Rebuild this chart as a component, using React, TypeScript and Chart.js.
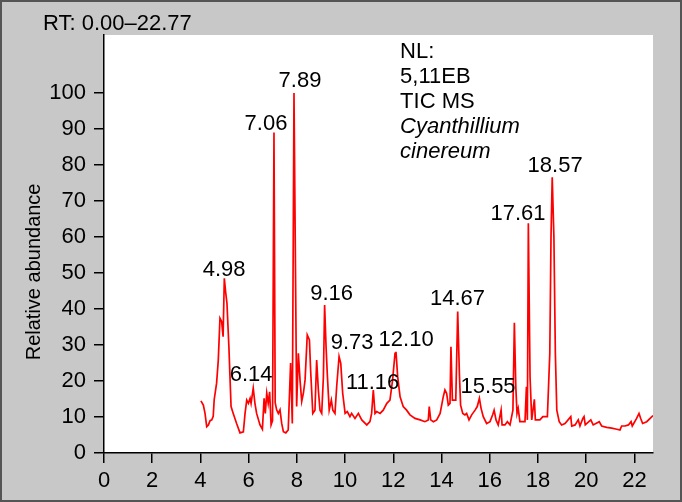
import React, { useEffect, useRef } from "react";
import { Chart, registerables } from "chart.js";

Chart.register(...registerables);

// Retention time (min)
const retentionTimes = [
  4.02, 4.12, 4.19, 4.26, 4.33, 4.40, 4.47, 4.53, 4.57, 4.67, 4.74, 4.81, 4.88, 4.94, 4.99, 5.05, 5.10, 5.18, 5.27, 5.36,
  5.50, 5.64, 5.78, 5.85, 5.92, 5.99, 6.06, 6.10, 6.19, 6.26, 6.33, 6.47, 6.57, 6.64, 6.69, 6.75, 6.81, 6.87, 6.93, 6.99,
  7.05, 7.10, 7.16, 7.23, 7.30, 7.37, 7.44, 7.54, 7.64, 7.74, 7.81, 7.88, 7.99, 8.06, 8.13, 8.20, 8.27, 8.34, 8.43, 8.52,
  8.57, 8.66, 8.75, 8.82, 8.89, 8.96, 9.03, 9.10, 9.15, 9.21, 9.26, 9.34, 9.43, 9.49, 9.58, 9.65, 9.75, 9.82, 9.90, 10.00,
  10.09, 10.20, 10.27, 10.41, 10.55, 10.69, 10.90, 11.03, 11.10, 11.17, 11.24, 11.31, 11.45, 11.58, 11.73, 11.86, 11.97, 12.07, 12.11, 12.18,
  12.28, 12.41, 12.55, 12.69, 12.90, 13.11, 13.31, 13.45, 13.49, 13.55, 13.66, 13.80, 13.94, 14.07, 14.14, 14.21, 14.28, 14.35, 14.39, 14.45,
  14.59, 14.67, 14.74, 14.79, 14.88, 14.97, 15.04, 15.14, 15.25, 15.39, 15.48, 15.57, 15.64, 15.73, 15.87, 16.01, 16.12, 16.18, 16.26, 16.35,
  16.47, 16.51, 16.63, 16.73, 16.84, 16.96, 17.02, 17.08, 17.13, 17.18, 17.25, 17.46, 17.52, 17.56, 17.60, 17.67, 17.74, 17.85, 17.89, 18.08,
  18.20, 18.39, 18.49, 18.54, 18.59, 18.66, 18.72, 18.78, 18.88, 18.98, 19.12, 19.36, 19.40, 19.54, 19.67, 19.74, 19.86, 19.91, 19.96, 20.19,
  20.29, 20.54, 20.64, 20.85, 21.06, 21.27, 21.40, 21.47, 21.61, 21.75, 21.86, 21.91, 22.09, 22.19, 22.26, 22.34, 22.51, 22.77,
];

// Relative abundance (%)
const relativeAbundance = [
  14.5, 13.3, 11.0, 7.3, 7.8, 9.0, 9.2, 10.2, 14.8, 19.4, 25.8, 37.4, 36.5, 32.3, 48.5, 44.4, 41.6, 29.5, 12.9, 11.0,
  8.2, 5.6, 5.9, 11.0, 14.7, 13.8, 15.2, 13.8, 18.0, 13.8, 11.0, 7.8, 6.6, 15.2, 11.0, 16.6, 13.8, 17.0, 7.8, 9.0,
  89.0, 14.0, 12.0, 11.0, 12.0, 8.2, 5.9, 5.6, 6.4, 25.0, 8.2, 100.0, 12.9, 27.7, 20.3, 14.3, 16.6, 20.3, 32.8, 31.4,
  23.0, 11.0, 11.9, 25.8, 17.5, 11.9, 11.0, 21.2, 41.1, 29.5, 22.1, 11.9, 14.7, 11.9, 11.0, 18.4, 26.8, 24.9, 16.6, 11.0,
  11.5, 10.1, 11.0, 9.6, 11.0, 9.2, 7.8, 8.7, 11.0, 17.5, 11.0, 11.5, 11.0, 11.9, 13.8, 14.7, 20.3, 27.7, 28.1, 21.2,
  15.6, 12.9, 11.9, 10.6, 9.6, 9.2, 8.7, 9.2, 12.9, 9.2, 8.7, 9.2, 11.0, 15.6, 17.5, 16.6, 13.3, 13.8, 29.5, 14.7,
  14.7, 39.3, 22.0, 13.3, 11.0, 10.6, 11.0, 9.2, 10.6, 11.9, 12.9, 15.2, 12.4, 10.1, 8.2, 8.7, 10.6, 11.9, 9.2, 7.8,
  11.9, 7.8, 7.8, 8.7, 7.8, 11.9, 36.2, 18.4, 11.0, 12.4, 8.7, 8.7, 18.4, 9.2, 63.8, 21.2, 9.2, 14.9, 9.2, 9.2,
  10.1, 10.1, 27.7, 60.0, 76.6, 60.0, 27.7, 11.9, 8.7, 7.8, 8.2, 10.1, 7.5, 7.8, 9.2, 7.5, 9.6, 10.1, 7.8, 9.2,
  7.8, 8.7, 7.5, 7.1, 6.9, 6.6, 6.4, 7.5, 7.5, 7.8, 8.7, 7.5, 9.6, 11.0, 9.6, 8.2, 8.7, 10.4,
];

// Peak annotations: text, label centre (min), label baseline (%)
const peakLabels = ["4.98", "6.14", "7.06", "7.89", "9.16", "9.73", "11.16", "12.10", "14.67", "15.55", "17.61", "18.57"];
const peakLabelTimes = [4.98, 6.1, 6.72, 8.13, 9.44, 10.29, 11.14, 12.53, 14.66, 15.93, 17.17, 18.71];
const peakLabelHeights = [49.2, 20.0, 89.7, 101.7, 42.5, 28.9, 17.8, 29.7, 41.1, 16.7, 64.7, 78.1];

const xTickValues = [0, 2, 4, 6, 8, 10, 12, 14, 16, 18, 20, 22];
const yTickValues = [0, 10, 20, 30, 40, 50, 60, 70, 80, 90, 100];

const rtRangeLabel = "RT: 0.00–22.77";
const yAxisTitle = "Relative abundance";
const yAxisTitleCentre = 50.3;
const infoLines = ["NL:", "5,11EB", "TIC MS", "Cyanthillium", "cinereum"];
const infoItalic = [false, false, false, true, true];
const infoAnchorTime = 12.28;
const infoAnchorHeight = 109.7;

const X_MAX = 22.77;
const Y_MAX = 116.1;
const FONT = '"Liberation Sans", Arial, Helvetica, sans-serif';

export default function App() {
  const canvasRef = useRef<HTMLCanvasElement | null>(null);

  useEffect(() => {
    const canvas = canvasRef.current;
    if (!canvas) return;

    const backgroundPlugin = {
      id: "frameBackground",
      beforeDraw(chart: any) {
        const { ctx, chartArea, width, height } = chart;
        ctx.save();
        ctx.fillStyle = "#c8c8c8";
        ctx.fillRect(0, 0, width, height);
        ctx.fillStyle = "#ffffff";
        ctx.fillRect(chartArea.left, chartArea.top, chartArea.right - chartArea.left, chartArea.bottom - chartArea.top);
        ctx.strokeStyle = "#555555";
        ctx.lineWidth = 2;
        ctx.strokeRect(1, 1, width - 2, height - 2);
        ctx.restore();
      },
    };

    const textPlugin = {
      id: "annotations",
      afterDraw(chart: any) {
        const { ctx } = chart;
        const xs = chart.scales.x;
        const ys = chart.scales.y;
        ctx.save();
        ctx.fillStyle = "#000";
        ctx.font = `22px ${FONT}`;
        ctx.textBaseline = "alphabetic";

        ctx.textAlign = "left";
        ctx.fillText(rtRangeLabel, 43, 30);

        ctx.textAlign = "center";
        peakLabels.forEach((label, i) => {
          ctx.fillText(label, xs.getPixelForValue(peakLabelTimes[i]), ys.getPixelForValue(peakLabelHeights[i]));
        });

        ctx.textAlign = "left";
        const ix = xs.getPixelForValue(infoAnchorTime);
        let iy = ys.getPixelForValue(infoAnchorHeight);
        infoLines.forEach((line, i) => {
          ctx.font = `${infoItalic[i] ? "italic " : ""}22px ${FONT}`;
          ctx.fillText(line, ix, iy);
          iy += 25;
        });

        ctx.font = `20px ${FONT}`;
        ctx.translate(34, ys.getPixelForValue(yAxisTitleCentre));
        ctx.rotate(-Math.PI / 2);
        ctx.textAlign = "center";
        ctx.textBaseline = "middle";
        ctx.fillText(yAxisTitle, 0, 0);
        ctx.restore();
      },
    };

    const points = retentionTimes.map((t, i) => ({ x: t, y: relativeAbundance[i] }));

    const tickFont = { family: FONT, size: 22 };

    const chart = new Chart(canvas, {
      type: "line",
      data: {
        datasets: [
          {
            data: points,
            borderColor: "#ff0000",
            borderWidth: 1.7,
            pointRadius: 0,
            tension: 0,
            fill: false,
          },
        ],
      },
      options: {
        animation: false,
        responsive: false,
        layout: { padding: { left: 0, right: 29, top: 35, bottom: 0 } },
        plugins: { legend: { display: false }, tooltip: { enabled: false }, title: { display: false } },
        scales: {
          x: {
            type: "linear",
            min: 0,
            max: X_MAX,
            afterFit: (s: any) => {
              s.height = 49;
            },
            afterBuildTicks: (s: any) => {
              s.ticks = xTickValues.map((v) => ({ value: v }));
            },
            ticks: { font: tickFont, color: "#000", padding: 5, maxRotation: 0, autoSkip: false },
            grid: { display: true, drawOnChartArea: false, drawTicks: true, tickLength: 10, color: "#000", lineWidth: 1.5 },
            border: { display: true, color: "#000", width: 1.5 },
          },
          y: {
            type: "linear",
            min: 0,
            max: Y_MAX,
            afterFit: (s: any) => {
              s.width = 104;
            },
            afterBuildTicks: (s: any) => {
              s.ticks = yTickValues.map((v) => ({ value: v }));
            },
            ticks: { font: tickFont, color: "#000", padding: 8, autoSkip: false },
            grid: { display: true, drawOnChartArea: false, drawTicks: true, tickLength: 10, color: "#000", lineWidth: 1.5 },
            border: { display: true, color: "#000", width: 1.5 },
          },
        },
      } as any,
      plugins: [backgroundPlugin, textPlugin],
    });

    return () => {
      chart.destroy();
    };
  }, []);

  return (
    <div style={{ position: "absolute", left: 0, top: 0, width: 682, height: 502 }}>
      <canvas ref={canvasRef} width={682} height={502} style={{ display: "block", width: 682, height: 502 }} />
    </div>
  );
}
